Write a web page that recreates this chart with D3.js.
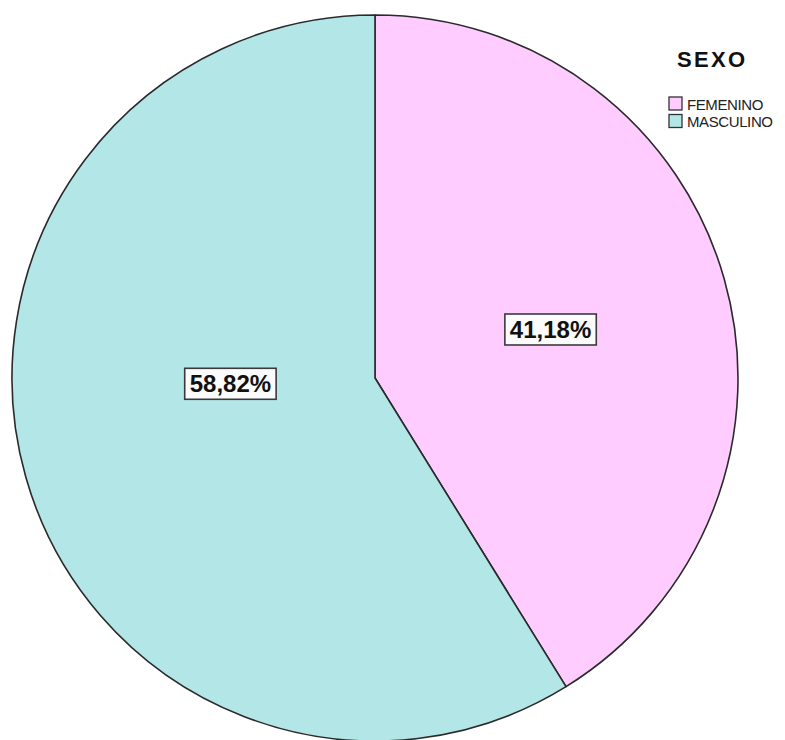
<!DOCTYPE html>
<html>
<head>
<meta charset="utf-8">
<script src="https://cdn.jsdelivr.net/npm/d3@7"></script>
<style>
  html, body { margin: 0; padding: 0; background: #fff; }
  svg { display: block; }
</style>
</head>
<body>
<svg id="chart" width="785" height="740"></svg>
<script>
// Distribution by sex
const categories = ["FEMENINO", "MASCULINO"];
const percents = [41.18, 58.82];
const sliceColors = ["#FFCCFF", "#B3E6E6"];
const legendTitle = "SEXO";

const width = 785, height = 740;
const cx = 375, cy = 378, radius = 363;

const svg = d3.select("#chart");
const g = svg.append("g").attr("transform", `translate(${cx},${cy})`);

const pie = d3.pie().sort(null).value(d => d.value);
const arcs = pie(categories.map((c, i) => ({ name: c, value: percents[i], color: sliceColors[i] })));

const arc = d3.arc().innerRadius(0).outerRadius(radius);

g.selectAll("path.slice")
  .data(arcs)
  .join("path")
  .attr("class", "slice")
  .attr("d", arc)
  .attr("fill", d => d.data.color)
  .attr("stroke", "#2a2a2a")
  .attr("stroke-width", 1.6)
  .attr("stroke-linejoin", "round");

// Percentage labels in boxes; the larger slice's label sits nearer the horizontal axis
const labelNudge = [[1, 1], [30, -44]];
const fmt = v => v.toFixed(2).replace(".", ",") + "%";

const labels = g.selectAll("g.lbl")
  .data(arcs)
  .join("g")
  .attr("class", "lbl")
  .attr("transform", (d, i) => {
    const [x, y] = arc.centroid(d);
    return `translate(${x + labelNudge[i][0]},${y + labelNudge[i][1]})`;
  });

labels.append("text")
  .attr("text-anchor", "middle")
  .attr("dy", "0.36em")
  .attr("font-family", "Liberation Sans, Arial, sans-serif")
  .attr("font-weight", "bold")
  .attr("font-size", 24)
  .attr("fill", "#111")
  .text(d => fmt(d.data.value));

labels.each(function() {
  const grp = d3.select(this);
  const bb = grp.select("text").node().getBBox();
  grp.insert("rect", "text")
    .attr("x", bb.x - 5)
    .attr("y", bb.y - 2)
    .attr("width", bb.width + 10)
    .attr("height", bb.height + 4)
    .attr("fill", "#fbfbfb")
    .attr("stroke", "#3a3a3a")
    .attr("stroke-width", 1.6);
});

// Legend
const legend = svg.append("g").attr("transform", "translate(668,0)");
legend.append("text")
  .attr("x", 9)
  .attr("y", 67)
  .attr("font-family", "Liberation Sans, Arial, sans-serif")
  .attr("font-weight", "bold")
  .attr("font-size", 22)
  .attr("letter-spacing", 2.3)
  .attr("fill", "#111")
  .text(legendTitle);

const items = legend.selectAll("g.item")
  .data(categories)
  .join("g")
  .attr("class", "item")
  .attr("transform", (d, i) => `translate(0,${97 + i * 17.5})`);

items.append("rect")
  .attr("x", 1)
  .attr("y", 0)
  .attr("width", 13)
  .attr("height", 13)
  .attr("fill", (d, i) => sliceColors[i])
  .attr("stroke", "#333")
  .attr("stroke-width", 1.3);

items.append("text")
  .attr("x", 19)
  .attr("y", 12.5)
  .attr("font-family", "Liberation Sans, Arial, sans-serif")
  .attr("font-size", 15)
  .attr("letter-spacing", -0.4)
  .attr("fill", "#222")
  .text(d => d);
</script>
</body>
</html>
